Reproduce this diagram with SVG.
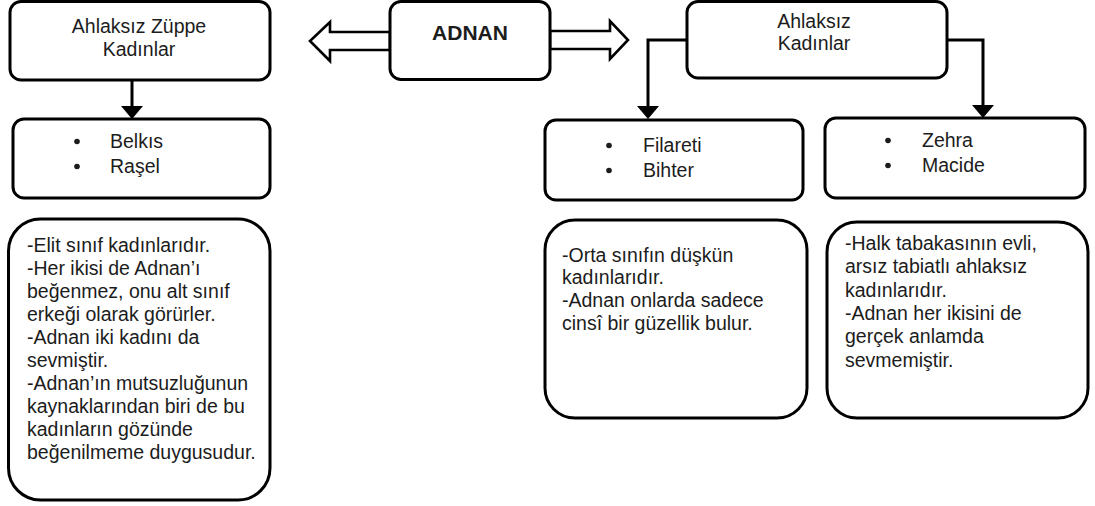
<svg xmlns="http://www.w3.org/2000/svg" width="1095" height="506" viewBox="0 0 1095 506">
  <defs>
    <style>
      .box { fill: #ffffff; stroke: #000000; stroke-width: 3; }
      .wire { fill: none; stroke: #000000; stroke-width: 3; }
      .head { fill: #000000; stroke: none; }
      .block { fill: #ffffff; stroke: #000000; stroke-width: 2.6; stroke-linejoin: miter; }
      .t { font-family: "Liberation Sans", Arial, sans-serif; font-size: 19.5px; fill: #1c1c1c; }
      .c { text-anchor: middle; }
      .b { font-weight: bold; font-size: 21px; }
      .dot { fill: #1c1c1c; }
    </style>
  </defs>
  <rect width="1095" height="506" fill="#ffffff"/>

  <!-- connectors -->
  <g id="connectors">
    <!-- hollow double arrows from ADNAN -->
    <polygon class="block" points="390,32 330,32 330,22 310,41 330,61 330,50 390,50"/>
    <polygon class="block" points="550,31 610,31 610,21 628,40 610,59 610,49 550,49"/>
    <!-- Ahlaksız Züppe Kadınlar to list -->
    <line class="wire" x1="132" y1="80" x2="132" y2="108"/>
    <polygon class="head" points="121,106 143,106 132,119"/>
    <!-- Ahlaksız Kadınlar to both lists -->
    <polyline class="wire" points="687,40 648,40 648,108"/>
    <polygon class="head" points="637,106 659,106 648,119"/>
    <polyline class="wire" points="947,40 983,40 983,107"/>
    <polygon class="head" points="972,105 994,105 983,118"/>
  </g>

  <g id="adnan">
    <rect class="box" x="390" y="1.5" width="160" height="78" rx="11"/>
    <text class="t c b" x="470" y="40">ADNAN</text>
  </g>

  <g id="zuppe">
    <rect class="box" x="10" y="1.5" width="260" height="78.5" rx="11"/>
    <text class="t c" x="139" y="33">Ahlaksız Züppe</text>
    <text class="t c" x="139" y="56">Kadınlar</text>
  </g>

  <g id="ahlaksiz">
    <rect class="box" x="687" y="1.5" width="260" height="76.5" rx="11"/>
    <text class="t c" x="814" y="28">Ahlaksız</text>
    <text class="t c" x="814" y="50">Kadınlar</text>
  </g>

  <g id="list-zuppe">
    <rect class="box" x="13" y="119" width="257" height="79" rx="11"/>
    <circle class="dot" cx="77" cy="141.5" r="2.8"/>
    <circle class="dot" cx="77" cy="166.5" r="2.8"/>
    <text class="t" x="110" y="148">Belkıs</text>
    <text class="t" x="110" y="173">Raşel</text>
  </g>

  <g id="list-orta">
    <rect class="box" x="545" y="120" width="258" height="80" rx="11"/>
    <circle class="dot" cx="609" cy="145.5" r="2.8"/>
    <circle class="dot" cx="609" cy="170.5" r="2.8"/>
    <text class="t" x="643" y="152">Filareti</text>
    <text class="t" x="643" y="177">Bihter</text>
  </g>

  <g id="list-halk">
    <rect class="box" x="825" y="118" width="260" height="80" rx="11"/>
    <circle class="dot" cx="888" cy="140.5" r="2.8"/>
    <circle class="dot" cx="888" cy="165.5" r="2.8"/>
    <text class="t" x="922" y="147">Zehra</text>
    <text class="t" x="922" y="172">Macide</text>
  </g>

  <g id="note-zuppe">
    <rect class="box" x="8.5" y="219" width="261.5" height="281" rx="32"/>
    <text class="t" x="27" y="252">-Elit sınıf kadınlarıdır.</text>
    <text class="t" x="27" y="275">-Her ikisi de Adnan’ı</text>
    <text class="t" x="27" y="298">beğenmez, onu alt sınıf</text>
    <text class="t" x="27" y="321">erkeği olarak görürler.</text>
    <text class="t" x="27" y="344">-Adnan iki kadını da</text>
    <text class="t" x="27" y="367">sevmiştir.</text>
    <text class="t" x="27" y="390">-Adnan’ın mutsuzluğunun</text>
    <text class="t" x="27" y="413">kaynaklarından biri de bu</text>
    <text class="t" x="27" y="436">kadınların gözünde</text>
    <text class="t" x="27" y="459">beğenilmeme duygusudur.</text>
  </g>

  <g id="note-orta">
    <rect class="box" x="545" y="220" width="262" height="198" rx="30"/>
    <text class="t" x="562" y="262">-Orta sınıfın düşkün</text>
    <text class="t" x="562" y="284">kadınlarıdır.</text>
    <text class="t" x="562" y="307">-Adnan onlarda sadece</text>
    <text class="t" x="562" y="330">cinsî bir güzellik bulur.</text>
  </g>

  <g id="note-halk">
    <rect class="box" x="827" y="222" width="261" height="196" rx="30"/>
    <text class="t" x="845" y="250">-Halk tabakasının evli,</text>
    <text class="t" x="845" y="273">arsız tabiatlı ahlaksız</text>
    <text class="t" x="845" y="297">kadınlarıdır.</text>
    <text class="t" x="845" y="320">-Adnan her ikisini de</text>
    <text class="t" x="845" y="343">gerçek anlamda</text>
    <text class="t" x="845" y="367">sevmemiştir.</text>
  </g>
</svg>
